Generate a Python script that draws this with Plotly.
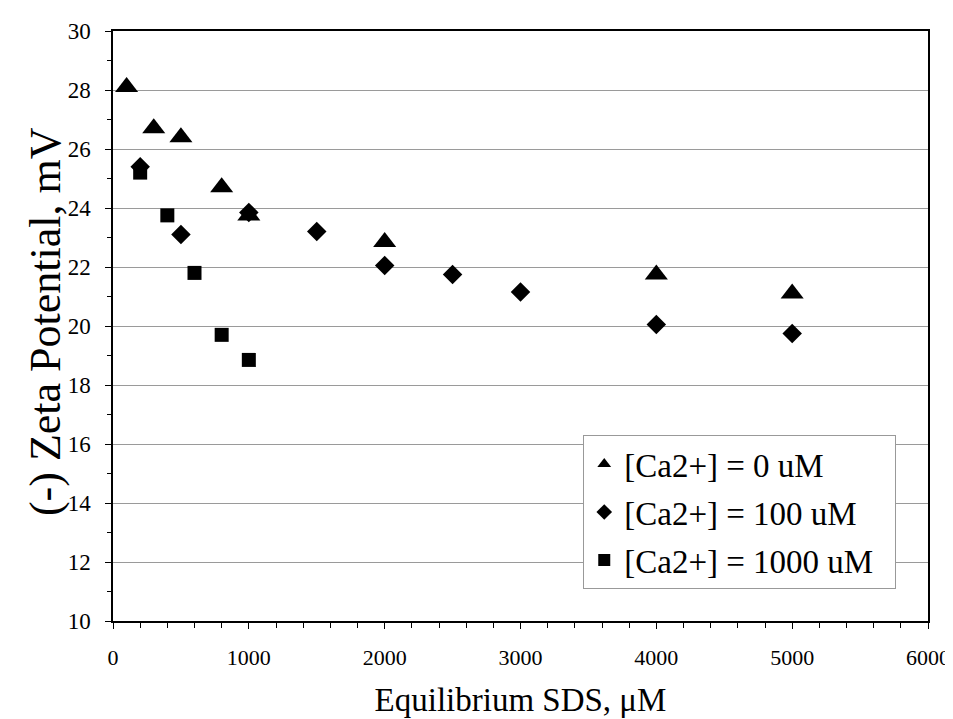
import plotly.graph_objects as go

# Data
x_ca0 = [100, 300, 500, 800, 1000, 2000, 4000, 5000]
y_ca0 = [28.1, 26.7, 26.4, 24.7, 23.75, 22.85, 21.75, 21.1]

x_ca100 = [200, 500, 1000, 1500, 2000, 2500, 3000, 4000, 5000]
y_ca100 = [25.4, 23.1, 23.85, 23.2, 22.05, 21.75, 21.15, 20.05, 19.75]

x_ca1000 = [200, 400, 600, 800, 1000]
y_ca1000 = [25.2, 23.75, 21.8, 19.7, 18.85]

names = ["[Ca2+] = 0 uM", "[Ca2+] = 100 uM", "[Ca2+] = 1000 uM"]
x_title = "Equilibrium SDS, μM"
y_title = "(-) Zeta Potential, mV"

font_family = "Liberation Serif, Times New Roman, serif"
pad = "\u00a0\u00a0"

fig = go.Figure()
fig.add_trace(go.Scatter(x=x_ca0, y=y_ca0, mode="markers", name=names[0] + pad, legendgroup="a",
                         marker=dict(symbol="triangle-up", size=20, color="black")))
fig.add_trace(go.Scatter(x=x_ca100, y=y_ca100, mode="markers", name=names[1] + pad, legendgroup="b",
                         marker=dict(symbol="diamond", size=15, color="black")))
fig.add_trace(go.Scatter(x=x_ca1000, y=y_ca1000, mode="markers", name=names[2] + pad, legendgroup="c",
                         marker=dict(symbol="square", size=14, color="black")))

fig.update_layout(
    width=953, height=719,
    margin=dict(l=105, r=33, t=23, b=106),
    paper_bgcolor="white", plot_bgcolor="white",
    font=dict(family=font_family, color="black", size=20),
    showlegend=True,
    legend=dict(x=0.577, y=0.315, xanchor="left", yanchor="top",
                bgcolor="white", bordercolor="#999999", borderwidth=1,
                font=dict(size=33, family=font_family), itemsizing="constant",
                tracegroupgap=2),
    xaxis=dict(
        range=[0, 6000], dtick=1000, tick0=0,
        showgrid=False, zeroline=False,
        showline=True, linecolor="black", linewidth=1.5, mirror=True,
        ticks="outside", ticklen=6, tickcolor="black",
        ticklabelstandoff=10,
        minor=dict(dtick=200, ticks="outside", ticklen=5, tickcolor="black"),
        tickfont=dict(size=22, family=font_family),
        title=dict(text=x_title, font=dict(size=33, family=font_family), standoff=19),
    ),
    yaxis=dict(
        range=[10, 30], dtick=2, tick0=10,
        showgrid=True, gridcolor="#9a9a9a", gridwidth=1,
        zeroline=False,
        showline=True, linecolor="black", linewidth=1.5, mirror=True,
        ticks="outside", ticklen=6, tickcolor="black",
        ticklabelstandoff=10,
        minor=dict(dtick=1, ticks="outside", ticklen=4, tickcolor="black", showgrid=False),
        tickfont=dict(size=23, family=font_family),
    ),
    annotations=[dict(text=y_title, xref="paper", yref="paper", x=-0.082, y=0.507,
                      xanchor="center", yanchor="middle", textangle=-90, showarrow=False,
                      font=dict(size=44, family=font_family, color="black"))],
)

fig.write_html("out.html")
